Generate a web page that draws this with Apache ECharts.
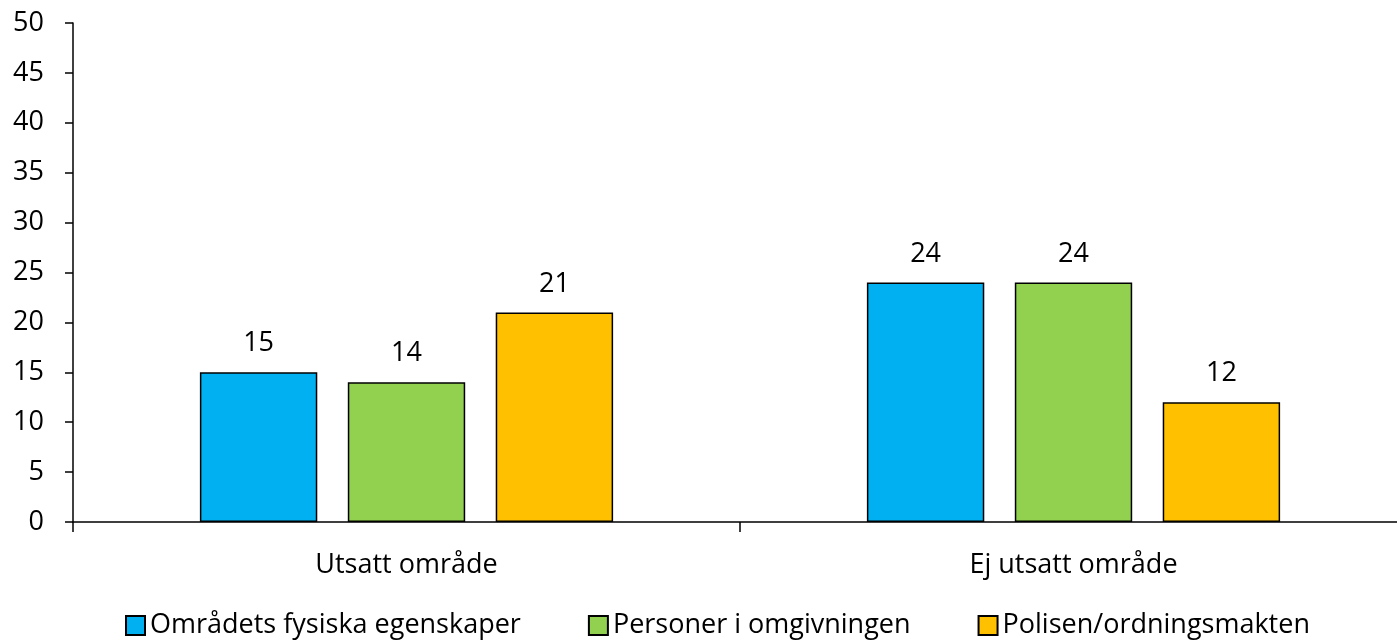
<!DOCTYPE html>
<html><head><meta charset="utf-8">
<script src="https://cdn.jsdelivr.net/npm/echarts@6/dist/echarts.min.js"></script>
<style>html,body{margin:0;padding:0;background:#fff;overflow:hidden}#c{width:1407px;height:640px}</style>
</head><body><div id="c"></div>
<script>
const categories = ["Utsatt område", "Ej utsatt område"];
const seriesNames = ["Områdets fysiska egenskaper", "Personer i omgivningen", "Polisen/ordningsmakten"];
const fysiska = [15, 24];
const personer = [14, 24];
const polisen = [21, 12];
const colors = ["#00B0F0", "#92D050", "#FFC000"];
const FONT = "Open Sans";
const FS = 27;
const values = [fysiska, personer, polisen];
const chart = echarts.init(document.getElementById('c'));
chart.setOption({
  animation: false,
  textStyle: {fontFamily: FONT, color: '#000'},
  grid: {left: 73, right: 0, top: 23, bottom: 118, containLabel: false},
  legend: {
    bottom: 1, left: 125, padding: 0, itemWidth: 19, itemHeight: 19, itemGap: 67,
    textStyle: {fontFamily: FONT, fontSize: FS, color: '#000'},
    data: seriesNames.map(n => ({name: n, icon: 'rect'}))
  },
  xAxis: {
    type: 'category', data: categories,
    axisLine: {lineStyle: {color: '#000', width: 1.5}},
    axisTick: {show: true, length: 10, lineStyle: {color: '#000', width: 1.5}},
    axisLabel: {fontFamily: FONT, fontSize: FS, color: '#000', margin: 30}
  },
  yAxis: {
    type: 'value', min: 0, max: 50, interval: 5,
    axisLine: {show: true, lineStyle: {color: '#000', width: 1.5}},
    axisTick: {show: true, length: 8, lineStyle: {color: '#000', width: 1.5}},
    splitLine: {show: false},
    axisLabel: {fontFamily: FONT, fontSize: FS, color: '#000', margin: 29}
  },
  series: seriesNames.map((n, i) => ({
    name: n, type: 'bar', data: values[i],
    barWidth: '17.6%', barGap: '26%',
    itemStyle: {color: colors[i], borderColor: '#000', borderWidth: 1.5},
    label: {show: true, position: 'top', distance: 15, fontFamily: FONT, fontSize: FS, color: '#000'}
  }))
});
</script></body></html>
